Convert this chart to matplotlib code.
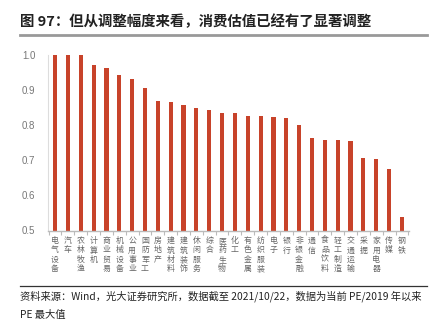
import matplotlib
matplotlib.use("Agg")
import matplotlib.pyplot as plt
import numpy as np

plt.rcParams["font.family"] = ["Noto Sans CJK SC", "DejaVu Sans"]

# ── 数据 ──
industries = ["电气设备", "汽车", "农林牧渔", "计算机", "商业贸易", "机械设备", "公用事业",
              "国防军工", "房地产", "建筑材料", "建筑装饰", "休闲服务", "综合", "医药生物",
              "化工", "有色金属", "纺织服装", "电子", "银行", "非银金融", "通信", "食品饮料",
              "轻工制造", "交通运输", "采掘", "家用电器", "传媒", "钢铁"]
pe_ratio = [1.0, 1.0, 1.0, 0.972, 0.963, 0.944, 0.931, 0.906, 0.869, 0.866, 0.858, 0.849,
            0.844, 0.834, 0.834, 0.826, 0.826, 0.823, 0.821, 0.801, 0.764, 0.758, 0.758,
            0.755, 0.706, 0.703, 0.674, 0.539]
y_ticks = [0.5, 0.6, 0.7, 0.8, 0.9, 1.0]

W, H = 439, 334
fig = plt.figure(figsize=(W / 100, H / 100), dpi=100)
fig.patch.set_facecolor("white")

# ── 主图 ──
ax = fig.add_axes([48 / W, 1 - 230.5 / H, 361 / W, 175.3 / H])
x = np.arange(len(industries))
ax.bar(x, pe_ratio, width=0.32, color="#C8432A", edgecolor="none")
ax.set_xlim(-0.55, len(industries) - 0.45)
ax.set_ylim(0.5, 1.0)

ax.set_yticks(y_ticks)
ax.set_yticklabels([f"{v:.1f}" for v in y_ticks], family=["Liberation Sans"])
ax.tick_params(axis="y", labelsize=7, colors="#777777", length=0, pad=9)

ax.set_xticks(x)
ax.set_xticklabels(["\n".join(s) for s in industries], fontsize=5.7,
                   color="#666666", linespacing=1.06, va="top")
ax.tick_params(axis="x", length=0, pad=4)
ax.set_xticks(np.arange(-0.5, len(industries), 1.0), minor=True)
ax.tick_params(axis="x", which="minor", length=3, color="#BBBBBB", width=0.8)

for side in ["top", "right"]:
    ax.spines[side].set_visible(False)
ax.spines["bottom"].set_color("#BBBBBB")
ax.spines["bottom"].set_linewidth(1.0)
ax.spines["left"].set_color("#DDDDDD")
ax.spines["left"].set_linewidth(0.8)

# ── 标题与来源 ──
fig.text(20 / W, 1 - 22 / H, "图 97：但从调整幅度来看，消费估值已经有了显著调整",
         fontsize=10.4, fontweight="bold", color="#222222", ha="left", va="center")
fig.add_artist(plt.Line2D([20 / W, 427 / W], [1 - 34.5 / H] * 2, color="#999999", lw=2))
fig.add_artist(plt.Line2D([20 / W, 427 / W], [1 - 286 / H] * 2, color="#333333", lw=0.9))
fig.text(20 / W, 1 - 296 / H,
         "资料来源：Wind，光大证券研究所，数据截至 2021/10/22，数据为当前 PE/2019 年以来",
         fontsize=7.4, color="#222222", ha="left", va="center")
fig.text(20 / W, 1 - 315 / H, "PE 最大值",
         fontsize=7.4, color="#222222", ha="left", va="center")

fig.savefig("out.png", dpi=100, facecolor="white")
